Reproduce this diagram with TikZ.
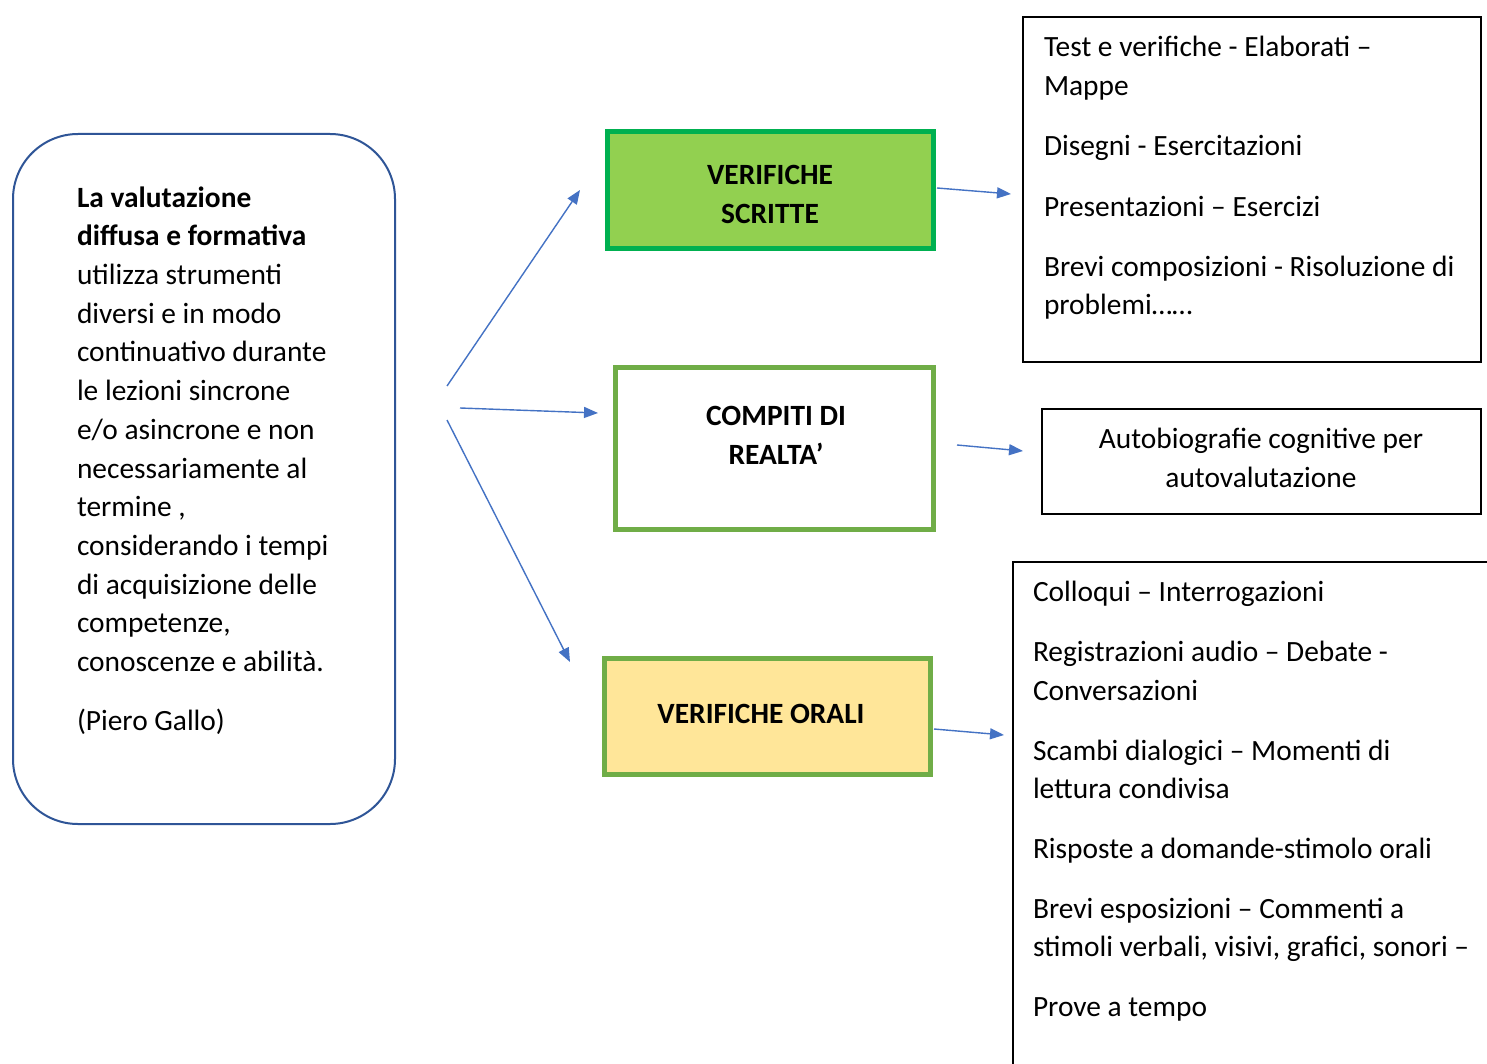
\documentclass[tikz,border=0pt]{standalone}
\usepackage{fontspec}
\setmainfont{Carlito}
\usetikzlibrary{arrows.meta}
\definecolor{arrowblue}{HTML}{4472C4}
\definecolor{leftblue}{HTML}{2F5597}
\definecolor{greenfill}{HTML}{92D050}
\definecolor{greenborder}{HTML}{00B050}
\definecolor{olivegreen}{HTML}{70AD47}
\definecolor{yellowfill}{HTML}{FFE699}
\begin{document}
\begin{tikzpicture}[x=1pt,y=-1pt,
  every node/.style={outer sep=0pt},
  conn/.style={draw=arrowblue, line width=1.4pt, -{Triangle[length=14pt,width=11pt]}},
  txt/.style={font=\fontsize{29.4}{38.7}\selectfont, inner sep=0pt, align=left},
  ctxt/.style={font=\fontsize{29.4}{38.7}\selectfont, inner sep=0pt, align=center},
  boldtxt/.style={font=\fontsize{29.4}{38.5}\selectfont\bfseries, inner sep=0pt, align=center},
  catbox/.style={line width=5pt, anchor=north west, inner sep=0pt},
  listbox/.style={draw=black, line width=1.6pt, anchor=north west, inner sep=0pt}
]
\useasboundingbox (0,0) rectangle (1487,1064);
\clip (0,0) rectangle (1487,1064);
\fill[white] (0,0) rectangle (1487,1064);

% left rounded box
\node[draw=leftblue, line width=2pt, rounded corners=65pt, minimum width=382pt, minimum height=690pt, anchor=north west, inner sep=0pt] (main) at (13,134) {};
\node[txt, anchor=north west] (maintext) at (77,186.5) {\rule{0pt}{18pt}\textbf{La valutazione}\\
\textbf{diffusa e formativa}\\
utilizza strumenti\\
diversi e in modo\\
continuativo durante\\
le lezioni sincrone\\
e/o asincrone e non\\
necessariamente al\\
termine ,\\
considerando i tempi\\
di acquisizione delle\\
competenze,\\
conoscenze e abilità.\\[20pt]
(Piero Gallo)};

% category boxes
\node[catbox, draw=greenborder, fill=greenfill, minimum width=326pt, minimum height=117pt] (scritte) at (607.5,131.5) {};
\node[boldtxt] (scrittelabel) at (770,194.5) {VERIFICHE\\SCRITTE};

\node[catbox, draw=olivegreen, fill=white, minimum width=318pt, minimum height=162pt] (compiti) at (615.5,367.5) {};
\node[boldtxt] (compitilabel) at (776,435.5) {COMPITI DI\\REALTA’};

\node[catbox, draw=olivegreen, fill=yellowfill, minimum width=326pt, minimum height=116pt] (orali) at (604.5,658.5) {};
\node[boldtxt] (oralilabel) at (761,714) {VERIFICHE ORALI};

% list boxes
\node[listbox, minimum width=458pt, minimum height=345pt] (list1) at (1022.8,16.8) {};
\node[txt, anchor=north west] (list1text) at (1044,36.5) {\rule{0pt}{18pt}Test e verifiche - Elaborati –\\
Mappe\\[21.5pt]
Disegni - Esercitazioni\\[21.5pt]
Presentazioni – Esercizi\\[21.5pt]
Brevi composizioni - Risoluzione di\\
problemi……};

\node[listbox, minimum width=439pt, minimum height=105pt] (list2) at (1041.8,408.8) {};
\node[ctxt, anchor=north] (list2text) at (1261,428.5) {\rule{0pt}{18pt}Autobiografie cognitive per\\autovalutazione};

\node[listbox, minimum width=560pt, minimum height=600pt] (list3) at (1012.8,561.8) {};
\node[txt, anchor=north west] (list3text) at (1033,581.5) {\rule{0pt}{18pt}Colloqui – Interrogazioni\\[21pt]
Registrazioni audio – Debate -\\
Conversazioni\\[21pt]
Scambi dialogici – Momenti di\\
lettura condivisa\\[21pt]
Risposte a domande-stimolo orali\\[21pt]
Brevi esposizioni – Commenti a\\
stimoli verbali, visivi, grafici, sonori –\\[21pt]
Prove a tempo};

% connector free ends
\coordinate (s1) at (447,386);
\coordinate (e1) at (580,190);
\coordinate (s2) at (460,408);
\coordinate (e2) at (598,413);
\coordinate (s3) at (447,420);
\coordinate (e3) at (570,662);
\coordinate (s4) at (937,188);
\coordinate (e4) at (1011,194);
\coordinate (s5) at (957,445);
\coordinate (e5) at (1023,451);
\coordinate (s6) at (934,729);
\coordinate (e6) at (1004,735);

\draw[conn] (s1) -- (e1);
\draw[conn] (s2) -- (e2);
\draw[conn] (s3) -- (e3);
\draw[conn] (s4) -- (e4);
\draw[conn] (s5) -- (e5);
\draw[conn] (s6) -- (e6);
\end{tikzpicture}
\end{document}
